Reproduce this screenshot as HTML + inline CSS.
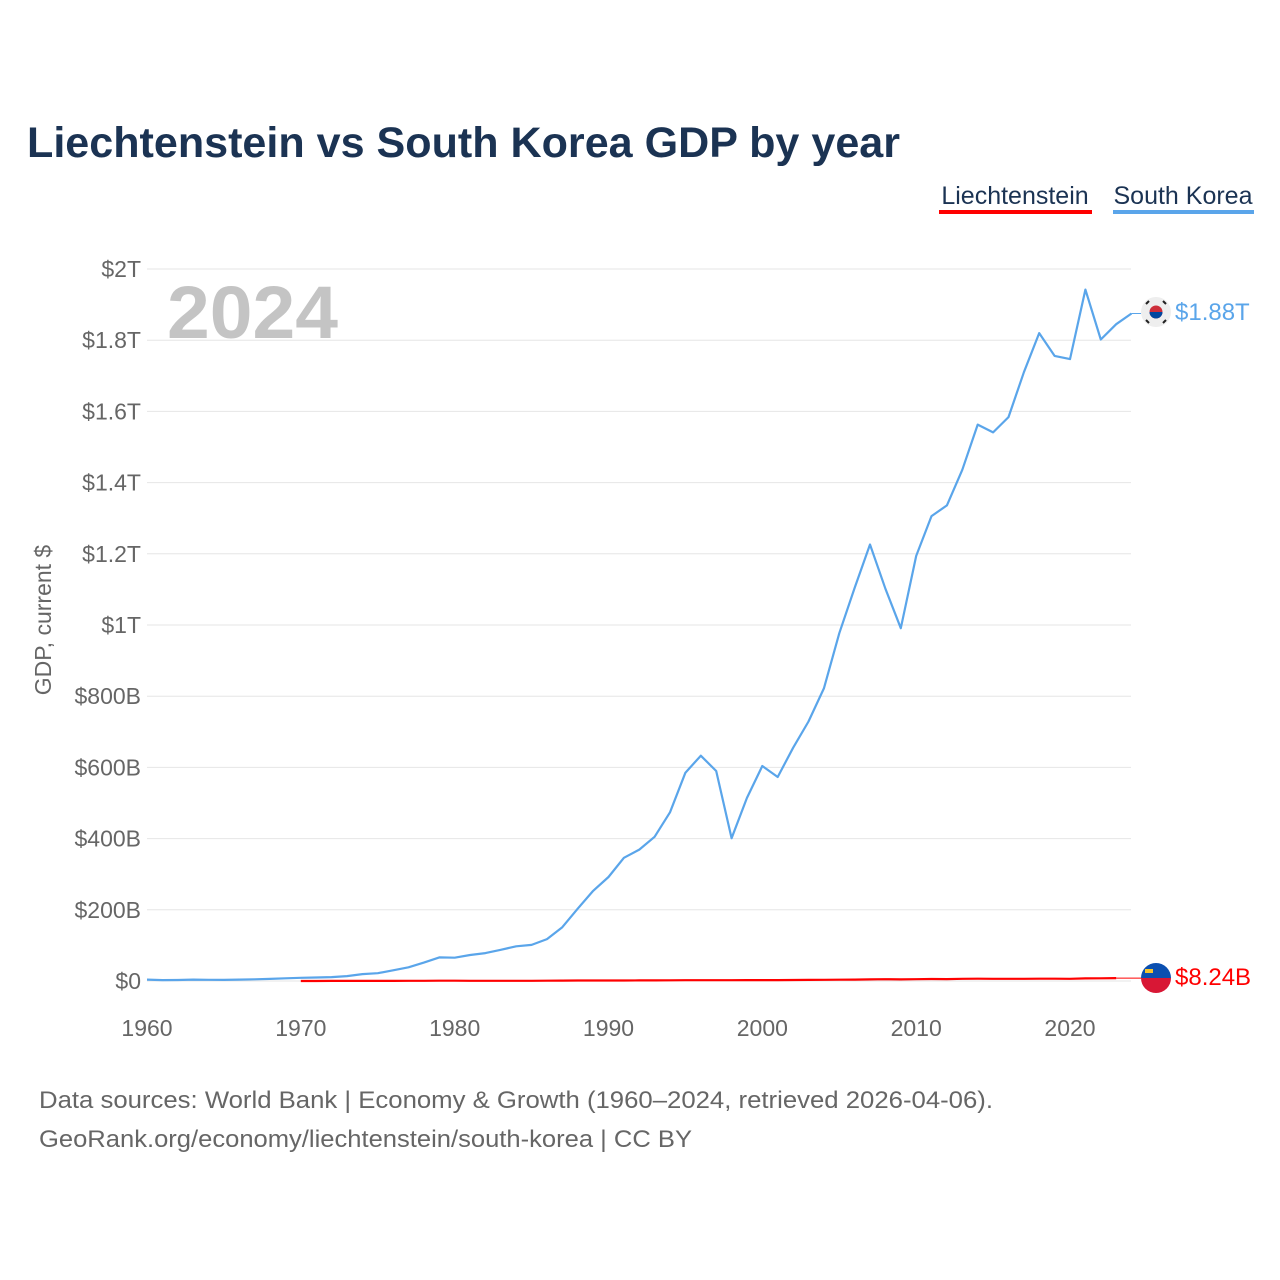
<!DOCTYPE html>
<html><head><meta charset="utf-8">
<style>
body{margin:0;background:#fff;font-family:"Liberation Sans",sans-serif;}
svg{display:block}
</style></head>
<body>
<svg id="chart" width="1280" height="1280" viewBox="0 0 1280 1280">
<text x="27" y="157" font-size="43" font-weight="bold" fill="#1b3353" textLength="873" lengthAdjust="spacingAndGlyphs">Liechtenstein vs South Korea GDP by year</text>
<g>
<g>
<text x="1015" y="204" font-size="25" fill="#1b3353" text-anchor="middle">Liechtenstein</text>
<rect x="939" y="210" width="153" height="4" fill="#ff0000"/></g>
<g>
<text x="1183" y="204" font-size="25" fill="#1b3353" text-anchor="middle">South Korea</text>
<rect x="1113" y="210" width="141" height="4" fill="#5aa5ea"/></g>
</g>
<g id="grid"></g>
<g id="yticks"></g>
<g id="xticks"></g>
<text x="167" y="338" font-size="74" font-weight="bold" fill="#c4c4c4" textLength="171" lengthAdjust="spacingAndGlyphs">2024</text>
<text transform="translate(51,620) rotate(-90)" font-size="23" fill="#666" text-anchor="middle">GDP, current $</text>
<g id="series"></g>
<g>
<circle cx="1156" cy="312" r="15" fill="#eee"/>
<circle cx="1156" cy="312" r="6.5" fill="#cd2e3a"/>
<path d="M1149.5 312 a6.5 6.5 0 0 0 13 0 z" fill="#0047a0"/>
<g stroke="#222" stroke-width="2"><line x1="1146" y1="304" x2="1149" y2="301"/><line x1="1163" y1="301" x2="1166" y2="304"/><line x1="1146" y1="320" x2="1149" y2="323"/><line x1="1163" y1="323" x2="1166" y2="320"/></g>
</g>
<text x="1175" y="320" font-size="24" fill="#5aa5ea">$1.88T</text>
<g>
<path d="M1141 978 a15 15 0 0 1 30 0 z" fill="#0b4fb0"/>
<path d="M1141 978 a15 15 0 0 0 30 0 z" fill="#d81735"/>
<rect x="1145" y="969" width="8" height="4" fill="#f4c430"/>
</g>
<text x="1175" y="985" font-size="24" fill="#ff0000">$8.24B</text>
<text x="39" y="1108" font-size="24" fill="#666" textLength="954" lengthAdjust="spacingAndGlyphs">Data sources: World Bank | Economy &amp; Growth (1960–2024, retrieved 2026-04-06).</text>
<text x="39" y="1147" font-size="24" fill="#666" textLength="653" lengthAdjust="spacingAndGlyphs">GeoRank.org/economy/liechtenstein/south-korea | CC BY</text>
</svg>
<script>
const yTickValues=[0,200,400,600,800,1000,1200,1400,1600,1800,2000];
const yTickLabels=["$0","$200B","$400B","$600B","$800B","$1T","$1.2T","$1.4T","$1.6T","$1.8T","$2T"];
const xTickYears=[1960,1970,1980,1990,2000,2010,2020];
const koreaStartYear=1960;
const koreaGdp=[4.0,2.4,2.8,3.9,3.5,3.1,3.8,4.7,5.9,7.5,9.0,9.9,10.9,13.9,19.5,21.8,30.0,38.4,51.7,66.4,65.4,72.9,78.4,87.7,97.5,101.3,117.8,151.1,203,253,292,346,369,405,474,585,633,590,401,514,604,573,655,729,822,977,1104,1226,1102,991,1194,1306,1336,1436,1563,1541,1584,1710,1820,1756,1747,1942,1802,1845,1875];
const liechStartYear=1970;
const liechGdp=[0.12,0.14,0.17,0.22,0.27,0.33,0.38,0.45,0.6,0.75,0.8,0.7,0.65,0.6,0.58,0.6,0.85,1.1,1.3,1.3,1.4,1.5,1.7,1.75,1.9,2.3,2.3,2.15,2.3,2.45,2.5,2.5,2.7,2.95,3.3,3.7,4.0,4.6,5.1,4.6,5.1,5.6,5.4,6.2,6.6,6.3,6.2,6.2,6.6,6.4,6.1,7.4,7.7,8.24];
const NS='http://www.w3.org/2000/svg';
const x=yr=>147+(yr-1960)*(923/60);
const y=v=>981-v*(712/2000);
function mk(tag,attrs,parent){const e=document.createElementNS(NS,tag);for(const k in attrs)e.setAttribute(k,attrs[k]);parent.appendChild(e);return e;}
const grid=document.getElementById('grid'),yt=document.getElementById('yticks'),xt=document.getElementById('xticks'),ser=document.getElementById('series');
yTickValues.forEach((v,i)=>{
 const l=mk('line',{x1:147,x2:1131,y1:y(v),y2:y(v),stroke:'#e6e6e6','stroke-width':1},grid);
 
 
 const t=mk('text',{x:141,y:y(v)+8,'font-size':23,fill:'#666','text-anchor':'end'},yt);
 t.textContent=yTickLabels[i];
 
 
});
xTickYears.forEach(yr=>{
 const t=mk('text',{x:x(yr),y:1036,'font-size':23,fill:'#666','text-anchor':'middle'},xt);
 t.textContent=yr;
 
 
});
const kp=koreaGdp.map((v,i)=>x(koreaStartYear+i).toFixed(1)+','+y(v).toFixed(1)).join(' ');
const kl=mk('polyline',{points:kp,fill:'none',stroke:'#5aa5ea','stroke-width':2.2,'stroke-linejoin':'round'},ser);


const lastK=koreaGdp[koreaGdp.length-1];
mk('line',{x1:x(koreaStartYear+koreaGdp.length-1),y1:y(lastK),x2:1141,y2:y(lastK),stroke:'#5aa5ea','stroke-width':1},ser);
const lp=liechGdp.map((v,i)=>x(liechStartYear+i).toFixed(1)+','+y(v).toFixed(1)).join(' ');
const ll=mk('polyline',{points:lp,fill:'none',stroke:'#ff0000','stroke-width':2.2},ser);


const lastL=liechGdp[liechGdp.length-1];
mk('line',{x1:x(liechStartYear+liechGdp.length-1),y1:y(lastL),x2:1141,y2:y(lastL),stroke:'#ff0000','stroke-width':1},ser);
</script>
</body></html>
